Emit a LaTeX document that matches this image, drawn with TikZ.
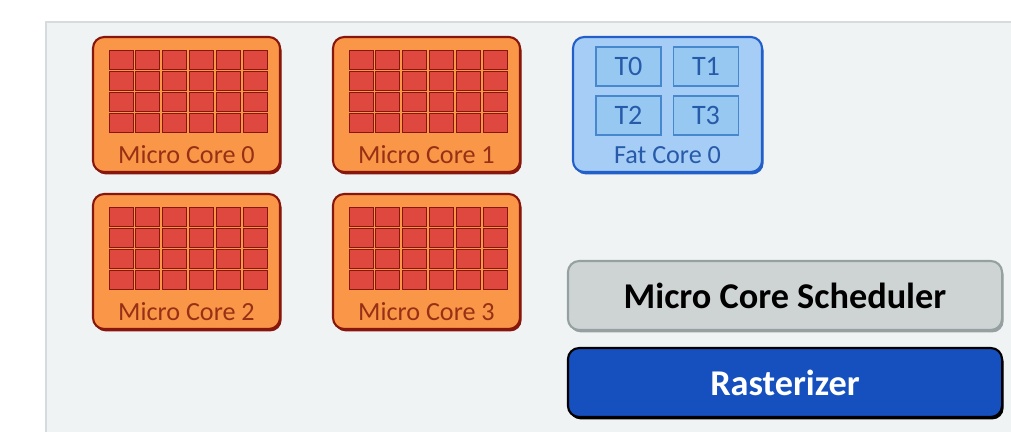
\documentclass[tikz,border=0pt]{standalone}
\usepackage{fontspec}
\setmainfont{Carlito}
\usetikzlibrary{shadows}
\definecolor{panelbg}{RGB}{240,243,244}
\definecolor{panelline}{RGB}{214,220,222}
\definecolor{coreorange}{RGB}{250,150,72}
\definecolor{coreline}{RGB}{135,22,12}
\definecolor{cellred}{RGB}{222,72,62}
\definecolor{coretext}{RGB}{150,48,22}
\definecolor{fatblue}{RGB}{165,205,245}
\definecolor{fatline}{RGB}{35,95,200}
\definecolor{threadblue}{RGB}{150,200,242}
\definecolor{threadline}{RGB}{70,135,205}
\definecolor{fattext}{RGB}{40,90,170}
\definecolor{schedgray}{RGB}{206,212,212}
\definecolor{schedline}{RGB}{150,160,160}
\definecolor{rasterblue}{RGB}{22,80,190}
\tikzset{
  microcore/.style={draw=coreline, fill=coreorange, line width=1.5pt, rounded corners=8pt,
    minimum width=4.675cm, minimum height=3.375cm,
    drop shadow={shadow xshift=1.1pt, shadow yshift=-1.7pt, fill=coreline, opacity=1}},
  cell/.style={draw=coreline, fill=cellred, line width=0.6pt},
  microtext/.style={text=coretext, font=\fontsize{18.6}{20}\selectfont},
  fatcore/.style={draw=fatline, fill=fatblue, line width=1.5pt, rounded corners=8pt,
    minimum width=4.725cm, minimum height=3.375cm,
    drop shadow={shadow xshift=1.1pt, shadow yshift=-1.7pt, fill=fatline, opacity=1}},
  thread/.style={draw=threadline, fill=threadblue, line width=0.8pt,
    minimum width=1.625cm, minimum height=0.975cm, text=fattext, font=\fontsize{20}{22}\selectfont},
  unitbox/.style={rounded corners=8pt, line width=1.5pt, minimum width=10.85cm, minimum height=1.725cm,
    font=\fontsize{25.8}{28}\selectfont\bfseries},
  schedbox/.style={unitbox, draw=schedline, fill=schedgray, text=black,
    drop shadow={shadow xshift=1.1pt, shadow yshift=-1.7pt, fill=schedline, opacity=1}},
  rasterbox/.style={unitbox, draw=black, fill=rasterblue, text=white,
    drop shadow={shadow xshift=1.1pt, shadow yshift=-1.7pt, fill=black, opacity=1}}
}
\begin{document}
\begin{tikzpicture}[x=0.025cm, y=-0.025cm]
\useasboundingbox (0,0) rectangle (1011,432);
\fill[white] (0,0) rectangle (1011,432);
\fill[panelbg] (46,22) rectangle (1011,432);
\draw[panelline, line width=1.2pt] (46,432) -- (46,22) -- (1011,22);
% micro cores with their 6x4 grids
\foreach \cx/\cy/\k in {93/37/0, 333/37/1, 93/194/2, 333/194/3}{
  \node[microcore] (mc\k) at (\cx+93.5,\cy+67.5) {};
  \foreach \i in {0,...,5}
    \foreach \j in {0,...,3}
      \filldraw[cell] (\cx+16+\i*26.8,\cy+13+\j*21.3) rectangle ++(24,19);
  \node[microtext] (mc\k-label) at (\cx+93.5,\cy+118) {Micro Core \k};
}
% fat core with four threads
\node[fatcore] (fc0) at (667.5,104.5) {};
\node[thread] (t0) at (628.5,66.5) {T0};
\node[thread] (t1) at (706,66.5) {T1};
\node[thread] (t2) at (628.5,115.5) {T2};
\node[thread] (t3) at (706,115.5) {T3};
\node[text=fattext, font=\fontsize{18.6}{20}\selectfont] (fc0-label) at (667.5,155) {Fat Core 0};
% scheduler and rasterizer
\node[schedbox] (sched) at (785,295.5) {Micro Core Scheduler};
\node[rasterbox] (raster) at (785,382.5) {Rasterizer};
\end{tikzpicture}
\end{document}
